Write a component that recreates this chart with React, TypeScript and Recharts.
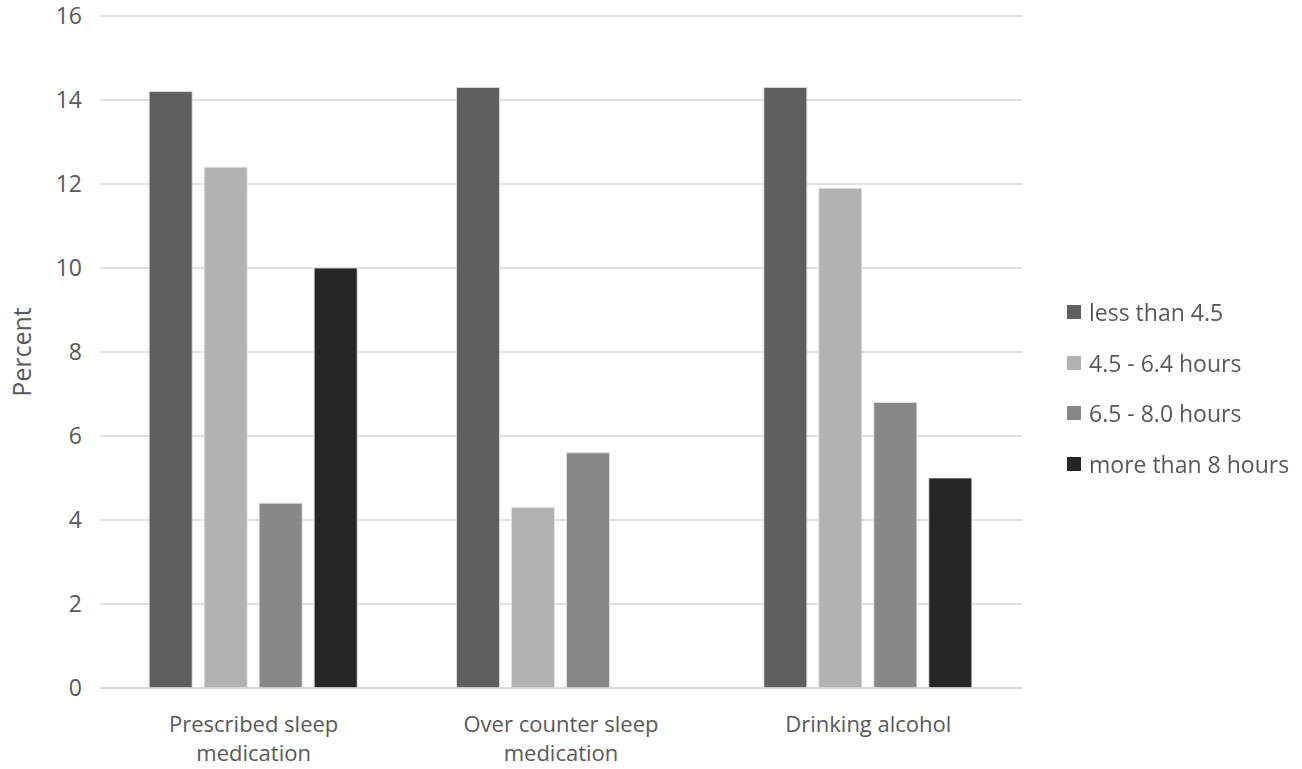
import React from "react";
import { BarChart, Bar, XAxis, YAxis, CartesianGrid, Legend } from "recharts";

const categories = [
  "Prescribed sleep medication",
  "Over counter sleep medication",
  "Drinking alcohol",
];

const lessThan45 = [14.2, 14.3, 14.3];
const from45to64 = [12.4, 4.3, 11.9];
const from65to80 = [4.4, 5.6, 6.8];
const moreThan8 = [10.0, null, 5.0];

const yTicks = [0, 2, 4, 6, 8, 10, 12, 14, 16];

const series = [
  { key: "less", name: "less than 4.5", color: "#5f5f5f" },
  { key: "mid", name: "4.5 - 6.4 hours", color: "#b2b2b2" },
  { key: "high", name: "6.5 - 8.0 hours", color: "#878787" },
  { key: "more", name: "more than 8 hours", color: "#262626" },
];

const data = categories.map((c, i) => ({
  name: c,
  less: lessThan45[i],
  mid: from45to64[i],
  high: from65to80[i],
  more: moreThan8[i],
}));

const font = "'Open Sans', sans-serif";
const textColor = "#595959";

// greedy wrap, like Excel does for long category names
function wrap(label: string, maxChars: number) {
  const lines: string[] = [];
  let cur = "";
  for (const w of label.split(" ")) {
    const next = cur ? cur + " " + w : w;
    if (next.length > maxChars && cur) {
      lines.push(cur);
      cur = w;
    } else {
      cur = next;
    }
  }
  if (cur) lines.push(cur);
  return lines;
}

function CategoryTick(props: any) {
  const { x, y, payload } = props;
  const lines = wrap(payload.value, 18);
  return (
    <text
      x={x}
      y={y + 36}
      textAnchor="middle"
      fill={textColor}
      fontSize={22}
      fontFamily={font}
    >
      {lines.map((l, i) => (
        <tspan key={i} x={x} dy={i === 0 ? 0 : 29}>
          {l}
        </tspan>
      ))}
    </text>
  );
}

function LegendBox() {
  return (
    <div style={{ fontFamily: font, fontSize: 23, color: textColor }}>
      {series.map((s) => (
        <div
          key={s.key}
          style={{ display: "flex", alignItems: "center", height: 50.5, whiteSpace: "nowrap" }}
        >
          <span
            style={{
              width: 14,
              height: 14,
              background: s.color,
              marginRight: 8,
              display: "inline-block",
              flex: "none",
            }}
          />
          {s.name}
        </div>
      ))}
    </div>
  );
}

export default function App() {
  return (
    <div style={{ position: "fixed", left: 0, top: 0, background: "#fff" }}>
      <BarChart
        width={1302}
        height={769}
        data={data}
        margin={{ top: 16, right: 44, bottom: 21, left: 40 }}
        barCategoryGap="16%"
        barGap={12}
      >
        <CartesianGrid vertical={false} stroke="#d9d9d9" strokeWidth={1.5} />
        <XAxis
          dataKey="name"
          height={60}
          tickLine={false}
          axisLine={{ stroke: "#d9d9d9", strokeWidth: 1.5 }}
          tick={<CategoryTick />}
          interval={0}
        />
        <YAxis
          width={60}
          domain={[0, 16]}
          ticks={yTicks}
          axisLine={false}
          tickLine={false}
          tickMargin={18}
          tick={{ fill: textColor, fontSize: 23, fontFamily: font, dx: 6 }}
          label={{
            value: "Percent",
            angle: -90,
            position: "insideLeft",
            dx: -23,
            style: { fill: textColor, fontSize: 25, fontFamily: font, textAnchor: "middle" },
          }}
        />
        <Legend
          layout="vertical"
          align="right"
          verticalAlign="middle"
          content={<LegendBox />}
          wrapperStyle={{ left: 1067, top: 287, width: 236 }}
        />
        {series.map((s) => (
          <Bar
            key={s.key}
            dataKey={s.key}
            name={s.name}
            fill={s.color}
            stroke="#e6e6e6"
            strokeWidth={0.8}
            isAnimationActive={false}
          />
        ))}
      </BarChart>
    </div>
  );
}
